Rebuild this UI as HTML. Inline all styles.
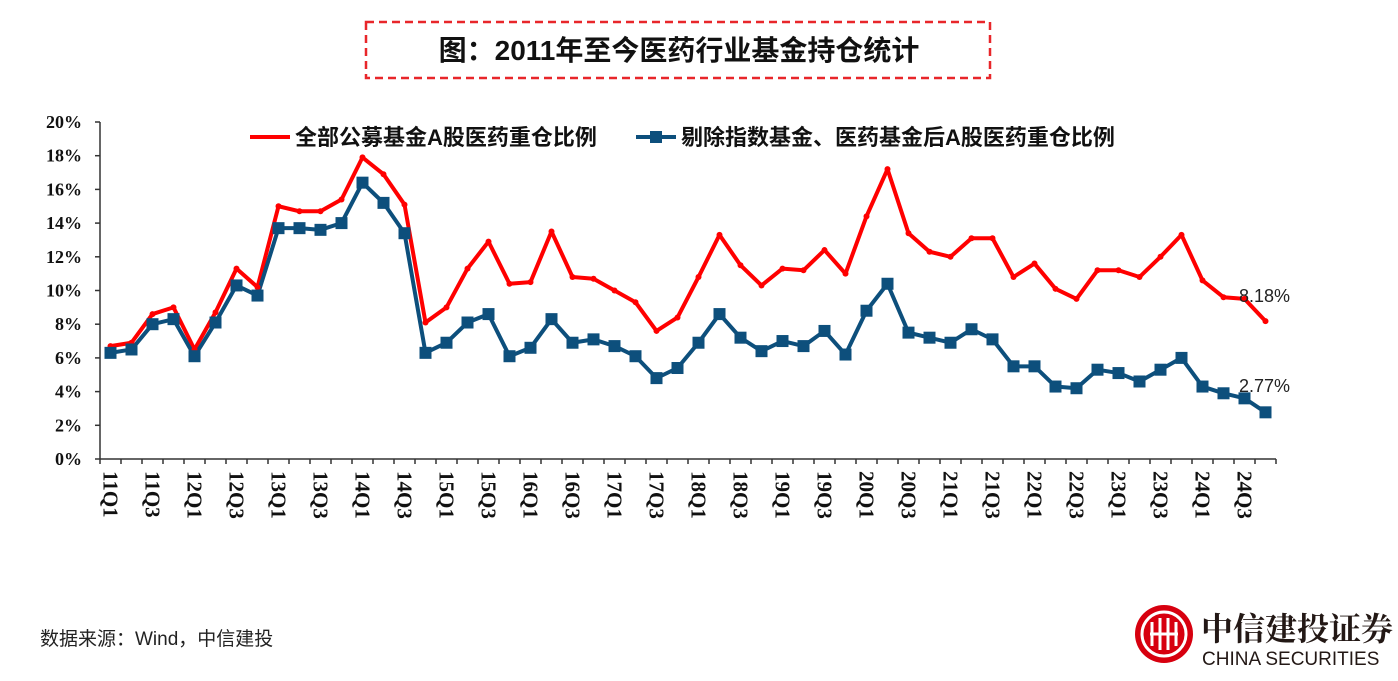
<!DOCTYPE html>
<html><head><meta charset="utf-8">
<style>
body{margin:0;background:#fff;width:1398px;height:676px;overflow:hidden;font-family:"Liberation Sans","Noto Sans CJK SC",sans-serif;}
</style></head>
<body>
<svg width="1398" height="676" viewBox="0 0 1398 676" xmlns="http://www.w3.org/2000/svg">
<rect x="366" y="22" width="624" height="56" fill="none" stroke="#e8262a" stroke-width="2.5" stroke-dasharray="8,5"/>
<text x="679" y="60" text-anchor="middle" font-size="28" font-weight="bold" font-family="'Liberation Sans','Noto Sans CJK SC',sans-serif" fill="#111">图：2011年至今医药行业基金持仓统计</text>
<g id="yaxis"></g>
<g id="xaxis"></g>
<g id="series"></g>
<g>
<g>
<line x1="250" y1="137" x2="290" y2="137" stroke="#ff0000" stroke-width="4"/>
<text x="295" y="145" font-size="22" font-weight="bold" font-family="'Liberation Sans','Noto Sans CJK SC',sans-serif" fill="#111">全部公募基金A股医药重仓比例</text>
</g>
<g>
<line x1="636" y1="137" x2="676" y2="137" stroke="#0d4f7c" stroke-width="4"/>
<rect x="650" y="131" width="12" height="12" fill="#0d4f7c"/>
<text x="681" y="145" font-size="22" font-weight="bold" font-family="'Liberation Sans','Noto Sans CJK SC',sans-serif" fill="#111">剔除指数基金、医药基金后A股医药重仓比例</text>
</g>
</g>
<text x="1239" y="302" font-size="18" font-family="'Liberation Sans',sans-serif" fill="#222">8.18%</text>
<text x="1239" y="392" font-size="18" font-family="'Liberation Sans',sans-serif" fill="#222">2.77%</text>
<text x="40" y="645" font-size="19" font-family="'Liberation Sans','Noto Sans CJK SC',sans-serif" fill="#222">数据来源：Wind，中信建投</text>
<g>
<circle cx="1164" cy="634" r="29" fill="#d7000f"/>
<circle cx="1164" cy="634" r="22" fill="none" stroke="#fff" stroke-width="3"/>
<path d="M1152 622v24M1160 618v32M1168 618v32M1176 622v24M1150 634h28" stroke="#fff" stroke-width="3" fill="none"/>
<text x="1201" y="640" font-size="32" font-weight="bold" font-family="'Noto Serif CJK SC','Noto Sans CJK SC',serif" fill="#231815">中信建投证券</text>
<text x="1202" y="665" font-size="19" font-family="'Liberation Sans',sans-serif" fill="#231815">CHINA SECURITIES</text>
</g>
</svg>
<script>
const categories=[];for(let y=11;y<=24;y++)for(let q=1;q<=4;q++)categories.push(y+'Q'+q);
const allFunds=[6.7,6.9,8.6,9.0,6.5,8.7,11.3,10.2,15.0,14.7,14.7,15.4,17.9,16.9,15.1,8.1,9.0,11.3,12.9,10.4,10.5,13.5,10.8,10.7,10.0,9.3,7.6,8.4,10.8,13.3,11.5,10.3,11.3,11.2,12.4,11.0,14.4,17.2,13.4,12.3,12.0,13.1,13.1,10.8,11.6,10.1,9.5,11.2,11.2,10.8,12.0,13.3,10.6,9.6,9.5,8.18];
const exclIndex=[6.3,6.5,8.0,8.3,6.1,8.1,10.3,9.7,13.7,13.7,13.6,14.0,16.4,15.2,13.4,6.3,6.9,8.1,8.6,6.1,6.6,8.3,6.9,7.1,6.7,6.1,4.8,5.4,6.9,8.6,7.2,6.4,7.0,6.7,7.6,6.2,8.8,10.4,7.5,7.2,6.9,7.7,7.1,5.5,5.5,4.3,4.2,5.3,5.1,4.6,5.3,6.0,4.3,3.9,3.6,2.77];
const yTicks=[0,2,4,6,8,10,12,14,16,18,20];
const NS='http://www.w3.org/2000/svg';
const X0=100,X1=1276,Y0=459,Y1=122,YMAX=20;
const bw=(X1-X0)/categories.length;
function xs(i){return X0+bw*(i+0.5);}
function ys(v){return Y0-(v/YMAX)*(Y0-Y1);}
function mk(t,a,p){const e=document.createElementNS(NS,t);for(const k in a)e.setAttribute(k,a[k]);p.appendChild(e);return e;}
const ya=document.getElementById('yaxis'),xa=document.getElementById('xaxis'),sg=document.getElementById('series');
mk('line',{x1:X0,y1:Y1,x2:X0,y2:Y0,stroke:'#333','stroke-width':1.5},ya);
yTicks.forEach(v=>{
 const y=ys(v);
 mk('line',{x1:X0-5,y1:y,x2:X0,y2:y,stroke:'#333','stroke-width':1.5},ya);
 const t=mk('text',{x:82,y:y+6,'text-anchor':'end','font-size':18,'font-weight':'bold','font-family':"'Liberation Serif',serif",fill:'#111'},ya);
 t.textContent=v+'%';
 
 
});
mk('line',{x1:X0,y1:Y0,x2:X1,y2:Y0,stroke:'#333','stroke-width':1.5},xa);
for(let i=0;i<=categories.length;i++){mk('line',{x1:X0+bw*i,y1:Y0,x2:X0+bw*i,y2:Y0+5,stroke:'#333','stroke-width':1.5},xa);}
categories.forEach((c,i)=>{
 if(i%2)return;
 const x=xs(i);
 const t=mk('text',{x:0,y:0,transform:`translate(${x-7},471) rotate(90)`,'font-size':21,'font-weight':'bold','font-family':"'Liberation Serif',serif",fill:'#111'},xa);
 t.textContent=c;
 
 
});
function line(data,color,name){
 const p=mk('polyline',{points:data.map((v,i)=>xs(i)+','+ys(v)).join(' '),fill:'none',stroke:color,'stroke-width':4,'stroke-linejoin':'round'},sg);
 
 
}
line(allFunds,'#ff0000','all-funds');
line(exclIndex,'#0d4f7c','excl-index');
allFunds.forEach((v,i)=>{
 const c=mk('circle',{cx:xs(i),cy:ys(v),r:3,fill:'#ff0000'},sg);
 
 
});
exclIndex.forEach((v,i)=>{
 const r=mk('rect',{x:xs(i)-6,y:ys(v)-6,width:12,height:12,fill:'#0d4f7c'},sg);
 
 
});
</script>
</body></html>
